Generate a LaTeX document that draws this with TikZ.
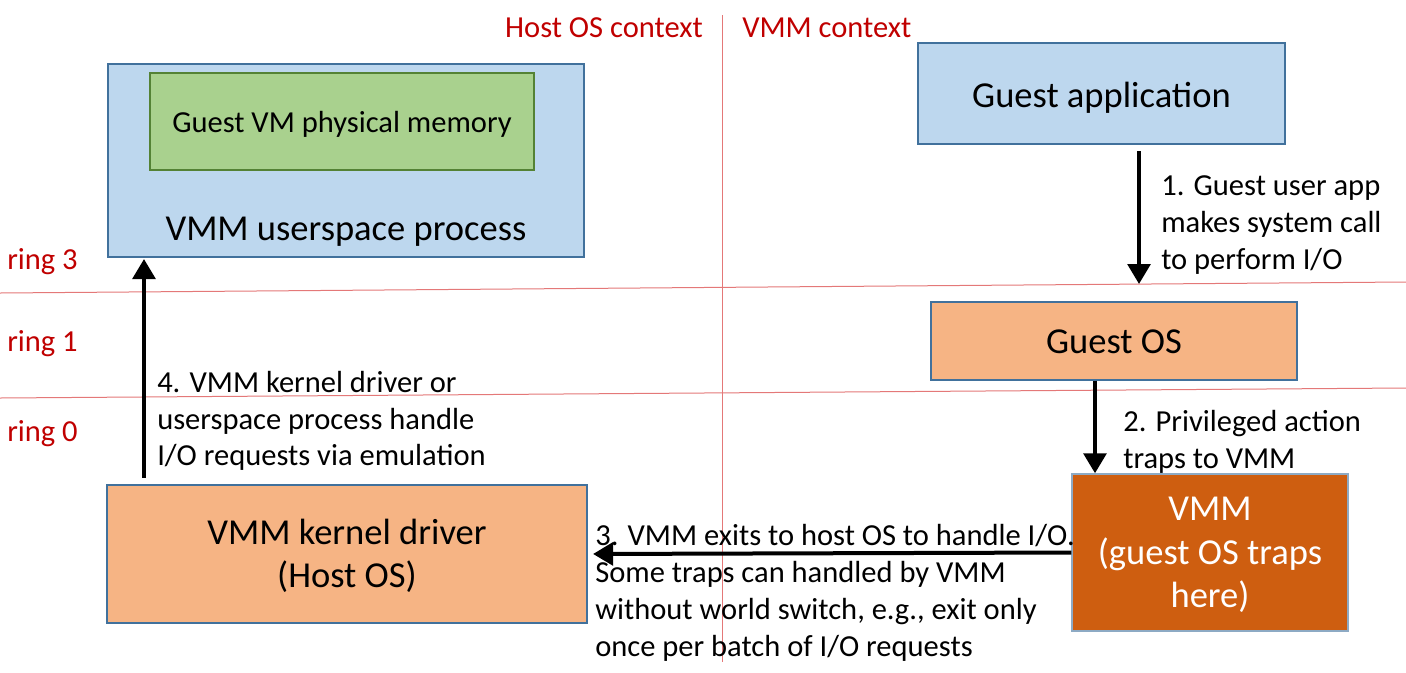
\documentclass[tikz,border=0pt]{standalone}
\usepackage{fontspec}
\setmainfont{Carlito}
\usetikzlibrary{arrows.meta}
\definecolor{ctxred}{RGB}{192,0,0}
\definecolor{gridred}{RGB}{228,120,120}
\definecolor{appblue}{RGB}{189,215,238}
\definecolor{edgeblue}{RGB}{65,113,156}
\definecolor{memgreen}{RGB}{169,209,142}
\definecolor{edgegreen}{RGB}{84,130,53}
\definecolor{osorange}{RGB}{246,180,132}
\definecolor{vmmorange}{RGB}{206,94,16}
\begin{document}
\begin{tikzpicture}[x=0.75pt,y=-0.75pt,
  bigtext/.style={font=\fontsize{27.4}{32.5}\selectfont,align=center},
  smalltext/.style={font=\fontsize{22.9}{27.6}\selectfont,align=left},
  ctxtext/.style={font=\fontsize{22.9}{27.5}\selectfont,text=ctxred},
  gridline/.style={draw=gridred,line width=0.75pt},
  blockbox/.style={draw=edgeblue,line width=1.1pt,inner sep=0pt},
  flow/.style={line width=3pt,-{Triangle[length=15pt,width=17pt]}}]
\useasboundingbox (0,0) rectangle (1406,672);
\draw[gridline] (0,293) -- (1406,282);
\draw[gridline] (0,398) -- (1406,388);
\draw[gridline] (722,15) -- (722,662);
\node[ctxtext,anchor=base] (hostctx) at (604,37) {Host OS context};
\node[ctxtext,anchor=base west,inner sep=0pt] (vmmctx) at (742,37) {VMM context};
\node[ctxtext,anchor=base west,inner sep=0pt] (ring3) at (7,269) {ring 3};
\node[ctxtext,anchor=base west,inner sep=0pt] (ring1) at (7,351) {ring 1};
\node[ctxtext,anchor=base west,inner sep=0pt] (ring0) at (7,441) {ring 0};
\node[blockbox,fill=appblue,minimum width=357pt,minimum height=144.75pt] (user) at (346,160.5) {};
\node[blockbox,draw=edgegreen,line width=2.2pt,fill=memgreen,minimum width=288pt,minimum height=72.75pt] (mem) at (342,121.5) {};
\node[smalltext,anchor=base] (memlbl) at (342,132) {Guest VM physical memory};
\node[bigtext,anchor=base] (userlbl) at (346,240) {VMM userspace process};
\node[blockbox,fill=appblue,minimum width=275.25pt,minimum height=75.75pt] (app) at (1101.5,93.5) {};
\node[bigtext,anchor=base] (applbl) at (1101.5,107) {Guest application};
\node[blockbox,fill=osorange,minimum width=274.5pt,minimum height=58.5pt] (gos) at (1114,341) {};
\node[bigtext,anchor=base] (goslbl) at (1114,353) {Guest OS};
\node[blockbox,draw=edgeblue!60,fill=vmmorange,minimum width=207pt,minimum height=117.75pt] (vmm) at (1210,552.5) {};
\node[bigtext,text=white] (vmmlbl) at (1210,555) {VMM\\(guest OS traps\\here)};
\node[blockbox,fill=osorange,minimum width=360pt,minimum height=103.5pt] (kern) at (347,554) {};
\node[bigtext] (kernlbl) at (347,556) {VMM kernel driver\\(Host OS)};
\coordinate (a1) at (1139,284);
\coordinate (a2) at (1095,0);
\coordinate (a4) at (144,0);
\draw[flow,shorten <=5pt] (app.south -| a1) -- (a1);
\draw[flow] (gos.south -| a2) -- (vmm.north -| a2);
\draw[flow,shorten >=4pt] (vmm.west) -- (kern.east);
\draw[flow,shorten <=5pt,shorten >=1pt] (kern.north -| a4) -- (user.south -| a4);
\node[smalltext,anchor=west,inner sep=0pt] (step1) at (1161,225) {1. Guest user app\\makes system call\\to perform I/O};
\node[smalltext,anchor=west,inner sep=0pt] (step2) at (1123,442) {2. Privileged action\\traps to VMM};
\node[smalltext,anchor=west,inner sep=0pt] (step3) at (595,593) {3. VMM exits to host OS to handle I/O.\\Some traps can handled by VMM\\without world switch, e.g., exit only\\once per batch of I/O requests};
\node[smalltext,anchor=west,inner sep=0pt] (step4) at (157,421) {4. VMM kernel driver or\\userspace process handle\\I/O requests via emulation};
\end{tikzpicture}
\end{document}
